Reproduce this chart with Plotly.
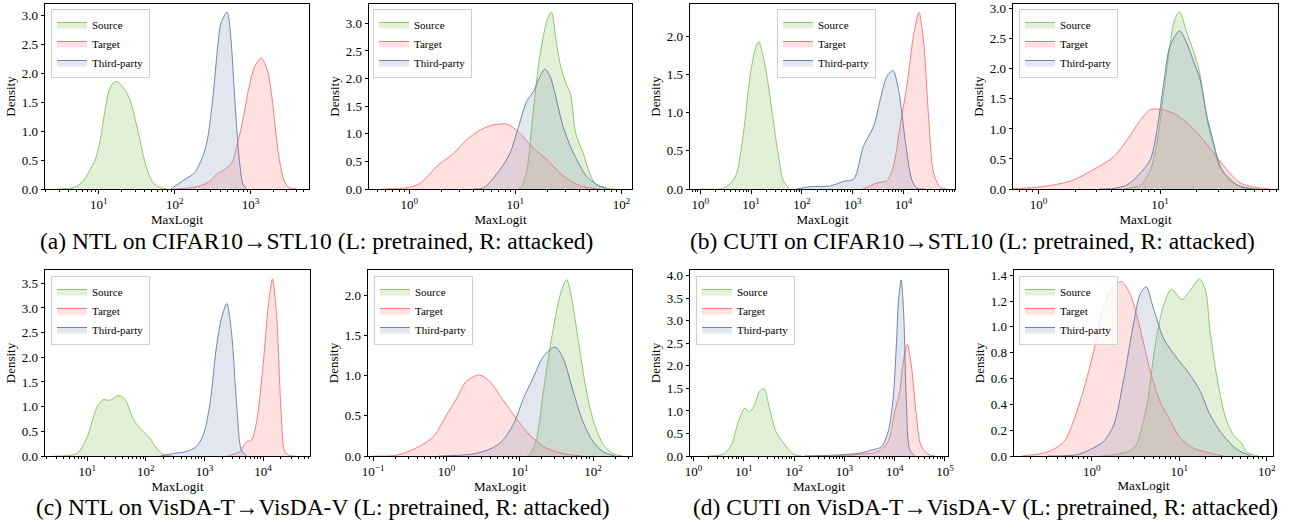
import numpy as np
import plotly.graph_objects as go

# ---------------- data (x stored as log10(MaxLogit)) ----------------
AL_SRC_LX = [0.45, 0.6, 0.7, 0.8, 0.88, 0.95, 1.02, 1.08, 1.14, 1.2, 1.25, 1.3, 1.37, 1.42, 1.48, 1.54, 1.6, 1.66, 1.72, 1.8, 1.9]
AL_SRC_D = [0, 0.01, 0.04, 0.15, 0.32, 0.5, 0.85, 1.35, 1.72, 1.84, 1.85, 1.78, 1.65, 1.5, 1.2, 0.85, 0.5, 0.25, 0.1, 0.03, 0]
AL_TGT_LX = [2.0, 2.2, 2.32, 2.45, 2.55, 2.65, 2.75, 2.83, 2.9, 2.97, 3.05, 3.14, 3.22, 3.28, 3.33, 3.38, 3.44, 3.5, 3.6]
AL_TGT_D = [0, 0.02, 0.05, 0.12, 0.25, 0.33, 0.45, 0.8, 1.2, 1.7, 2.1, 2.26, 2.05, 1.6, 1.0, 0.5, 0.15, 0.03, 0]
AL_TPY_LX = [1.95, 2.06, 2.15, 2.26, 2.37, 2.43, 2.5, 2.57, 2.61, 2.69, 2.74, 2.78, 2.82, 2.86, 2.9, 2.95]
AL_TPY_D = [0, 0.1, 0.18, 0.28, 0.56, 0.85, 1.54, 2.5, 2.86, 3.05, 2.6, 1.8, 1.0, 0.4, 0.08, 0]

AR_SRC_LX = [1.03, 1.06, 1.11, 1.17, 1.23, 1.3, 1.34, 1.39, 1.43, 1.48, 1.52, 1.57, 1.64, 1.7, 1.76, 1.85, 1.93]
AR_SRC_D = [0, 0.05, 0.35, 1.43, 2.4, 3.06, 3.2, 2.6, 2.2, 1.9, 1.73, 1.0, 0.65, 0.29, 0.08, 0.02, 0]
AR_TPY_LX = [0.6, 0.7, 0.855, 0.95, 1.03, 1.11, 1.17, 1.23, 1.28, 1.33, 1.39, 1.45, 1.52, 1.58, 1.67, 1.77, 1.86]
AR_TPY_D = [0, 0.02, 0.35, 0.65, 1.13, 1.6, 1.76, 2.03, 2.17, 2.03, 1.6, 1.13, 0.77, 0.53, 0.23, 0.08, 0.01]
AR_TGT_LX = [-0.25, -0.03, 0.1, 0.26, 0.42, 0.54, 0.67, 0.79, 0.93, 1.04, 1.17, 1.3, 1.42, 1.55, 1.67, 1.8]
AR_TGT_D = [0, 0.02, 0.1, 0.41, 0.65, 0.89, 1.07, 1.16, 1.17, 1.01, 0.74, 0.53, 0.29, 0.11, 0.03, 0]

BL_SRC_LX = [0.0, 0.46, 0.62, 0.72, 0.85, 0.98, 1.08, 1.15, 1.28, 1.41, 1.54, 1.64, 1.77]
BL_SRC_D = [0, 0.01, 0.09, 0.21, 0.73, 1.47, 1.82, 1.93, 1.6, 1.03, 0.43, 0.1, 0]
BL_TPY_LX = [1.9, 2.16, 2.56, 2.82, 3.02, 3.21, 3.41, 3.54, 3.67, 3.79, 3.9, 4.03, 4.16, 4.26, 4.4]
BL_TPY_D = [0, 0.03, 0.04, 0.1, 0.13, 0.56, 0.82, 1.17, 1.47, 1.55, 1.3, 0.64, 0.12, 0.01, 0]
BL_TGT_LX = [3.2, 3.48, 3.67, 3.8, 3.93, 4.07, 4.2, 4.3, 4.39, 4.49, 4.59, 4.72, 4.85]
BL_TGT_D = [0, 0.08, 0.11, 0.3, 0.82, 1.38, 2.03, 2.31, 1.95, 0.95, 0.21, 0.02, 0]

BR_SRC_LX = [0.7, 0.84, 0.92, 0.97, 1.03, 1.08, 1.12, 1.16, 1.22, 1.27, 1.32, 1.36, 1.41, 1.47, 1.52, 1.6, 1.71, 1.82]
BR_SRC_D = [0, 0.07, 0.32, 0.71, 1.6, 2.37, 2.82, 2.95, 2.6, 2.32, 1.99, 1.49, 0.93, 0.54, 0.27, 0.1, 0.02, 0]
BR_TPY_LX = [0.5, 0.62, 0.73, 0.84, 0.92, 0.97, 1.03, 1.08, 1.16, 1.22, 1.27, 1.33, 1.38, 1.44, 1.49, 1.58, 1.66, 1.77]
BR_TPY_D = [0, 0.01, 0.07, 0.27, 0.49, 0.93, 1.76, 2.37, 2.63, 2.43, 2.15, 1.82, 1.26, 0.77, 0.38, 0.16, 0.04, 0]
BR_TGT_LX = [-0.3, -0.01, 0.26, 0.45, 0.62, 0.73, 0.84, 0.92, 0.99, 1.11, 1.22, 1.33, 1.44, 1.55, 1.66, 1.77, 1.9]
BR_TGT_D = [0, 0.03, 0.13, 0.32, 0.54, 0.82, 1.15, 1.32, 1.33, 1.26, 1.1, 0.88, 0.6, 0.32, 0.1, 0.03, 0]

CL_SRC_LX = [0.45, 0.82, 0.99, 1.16, 1.27, 1.39, 1.52, 1.6, 1.67, 1.78, 1.9, 2.07, 2.18, 2.3, 2.45]
CL_SRC_D = [0, 0.05, 0.36, 0.97, 1.14, 1.13, 1.22, 1.2, 1.1, 0.76, 0.56, 0.36, 0.16, 0.03, 0]
CL_TPY_LX = [2.25, 2.47, 2.69, 2.86, 2.98, 3.09, 3.2, 3.29, 3.38, 3.46, 3.55, 3.63, 3.72]
CL_TPY_D = [0, 0.05, 0.09, 0.19, 0.43, 1.03, 2.18, 2.79, 3.09, 2.52, 1.03, 0.12, 0]
CL_TGT_LX = [3.4, 3.6, 3.72, 3.8, 3.89, 4.0, 4.09, 4.16, 4.23, 4.31, 4.37, 4.45, 4.55]
CL_TGT_D = [0, 0.09, 0.29, 0.32, 0.7, 1.84, 3.06, 3.59, 2.86, 0.83, 0.09, 0.01, 0]

CR_SRC_LX = [1.1, 1.14, 1.23, 1.32, 1.41, 1.5, 1.57, 1.64, 1.7, 1.8, 1.91, 2.02, 2.14, 2.27, 2.4]
CR_SRC_D = [0, 0.02, 0.22, 0.8, 1.34, 1.8, 2.07, 2.2, 2.0, 1.43, 0.8, 0.39, 0.14, 0.03, 0]
CR_TPY_LX = [-0.1, 0.32, 0.55, 0.73, 0.91, 1.05, 1.18, 1.32, 1.48, 1.59, 1.73, 1.86, 2.0, 2.14, 2.3]
CR_TPY_D = [0, 0.02, 0.07, 0.16, 0.39, 0.72, 0.97, 1.24, 1.36, 1.22, 0.8, 0.43, 0.18, 0.05, 0]
CR_TGT_LX = [-1.0, -0.68, -0.41, -0.18, 0.0, 0.14, 0.27, 0.45, 0.59, 0.77, 0.95, 1.14, 1.36, 1.59, 1.85]
CR_TGT_D = [0, 0.01, 0.1, 0.24, 0.51, 0.72, 0.93, 1.01, 0.93, 0.7, 0.47, 0.26, 0.1, 0.03, 0]

DL_SRC_LX = [0.3, 0.59, 0.75, 0.89, 1.02, 1.11, 1.21, 1.31, 1.4, 1.51, 1.64, 1.77, 1.9, 2.03, 2.15]
DL_SRC_D = [0, 0.04, 0.24, 0.76, 1.06, 0.98, 1.13, 1.43, 1.5, 1.06, 0.54, 0.32, 0.13, 0.02, 0]
DL_TPY_LX = [2.2, 2.82, 3.28, 3.54, 3.74, 3.87, 3.97, 4.03, 4.08, 4.13, 4.18, 4.23, 4.3, 4.4]
DL_TPY_D = [0, 0.02, 0.06, 0.13, 0.21, 0.54, 1.28, 2.39, 3.5, 3.91, 3.13, 1.28, 0.13, 0]
DL_TGT_LX = [2.8, 3.34, 3.67, 3.87, 4.0, 4.1, 4.16, 4.25, 4.33, 4.43, 4.52, 4.66, 4.8]
DL_TGT_D = [0, 0.04, 0.1, 0.32, 0.98, 1.43, 2.02, 2.48, 2.02, 0.91, 0.24, 0.04, 0]

DR_SRC_LX = [0.1, 0.25, 0.44, 0.51, 0.63, 0.72, 0.82, 0.91, 1.03, 1.12, 1.23, 1.3, 1.35, 1.45, 1.54, 1.62, 1.71, 1.77, 1.9]
DR_SRC_D = [0, 0.01, 0.04, 0.09, 0.4, 0.84, 1.17, 1.29, 1.21, 1.28, 1.37, 1.28, 0.97, 0.53, 0.27, 0.16, 0.1, 0.03, 0]
DR_TPY_LX = [-0.5, -0.17, -0.02, 0.13, 0.25, 0.36, 0.48, 0.55, 0.62, 0.7, 0.82, 0.97, 1.12, 1.24, 1.35, 1.5, 1.66, 1.82]
DR_TPY_D = [0, 0.01, 0.05, 0.11, 0.24, 0.58, 1.04, 1.25, 1.31, 1.15, 0.91, 0.76, 0.63, 0.5, 0.32, 0.16, 0.05, 0]
DR_TGT_LX = [-0.8, -0.51, -0.32, -0.21, -0.1, 0.02, 0.13, 0.25, 0.34, 0.44, 0.55, 0.67, 0.78, 0.9, 1.01, 1.16, 1.31, 1.5]
DR_TGT_D = [0, 0.03, 0.11, 0.27, 0.5, 0.81, 1.15, 1.31, 1.35, 1.25, 0.99, 0.65, 0.42, 0.27, 0.14, 0.06, 0.03, 0]

SERIES = ["Source", "Target", "Third-party"]
CAPTIONS = [
    "(a) NTL on CIFAR10\u2192STL10 (L: pretrained, R: attacked)",
    "(b) CUTI on CIFAR10\u2192STL10 (L: pretrained, R: attacked)",
    "(c) NTL on VisDA-T\u2192VisDA-V (L: pretrained, R: attacked)",
    "(d) CUTI on VisDA-T\u2192VisDA-V (L: pretrained, R: attacked)",
]
X_TITLE = "MaxLogit"
Y_TITLE = "Density"

# ---------------- styling / layout ----------------
W, H = 1300, 529
FONT = "Liberation Serif"
LINE = {"Source": "rgba(125,190,85,0.85)", "Target": "rgba(255,110,110,0.9)", "Third-party": "rgba(100,122,165,0.9)"}
FILL = {"Source": "rgba(135,195,95,0.25)", "Target": "rgba(255,135,135,0.25)", "Third-party": "rgba(139,155,187,0.25)"}

PANELS = [
    dict(box=(45, 309, 4, 189), xr=(0.29, 3.77), yr=3.19, dt=0.5, dec=(1, 3), leg=(51, 9),
         data=[(AL_SRC_LX, AL_SRC_D), (AL_TGT_LX, AL_TGT_D), (AL_TPY_LX, AL_TPY_D)]),
    dict(box=(369, 632, 4, 189), xr=(-0.38, 2.1), yr=3.35, dt=0.5, dec=(0, 2), leg=(373, 9),
         data=[(AR_SRC_LX, AR_SRC_D), (AR_TGT_LX, AR_TGT_D), (AR_TPY_LX, AR_TPY_D)]),
    dict(box=(690, 955, 4, 189), xr=(-0.2, 5.01), yr=2.42, dt=0.5, dec=(0, 4), leg=(777, 9),
         data=[(BL_SRC_LX, BL_SRC_D), (BL_TGT_LX, BL_TGT_D), (BL_TPY_LX, BL_TPY_D)]),
    dict(box=(1013, 1278, 4, 189), xr=(-0.21, 1.97), yr=3.08, dt=0.5, dec=(0, 1), leg=(1019, 9),
         data=[(BR_SRC_LX, BR_SRC_D), (BR_TGT_LX, BR_TGT_D), (BR_TPY_LX, BR_TPY_D)]),
    dict(box=(45, 310, 270, 456), xr=(0.28, 4.8), yr=3.77, dt=0.5, dec=(1, 4), leg=(51, 276),
         data=[(CL_SRC_LX, CL_SRC_D), (CL_TGT_LX, CL_TGT_D), (CL_TPY_LX, CL_TPY_D)]),
    dict(box=(368, 632, 270, 456), xr=(-1.07, 2.53), yr=2.32, dt=0.5, dec=(-1, 2), leg=(374, 276),
         data=[(CR_SRC_LX, CR_SRC_D), (CR_TGT_LX, CR_TGT_D), (CR_TPY_LX, CR_TPY_D)]),
    dict(box=(690, 948, 270, 456), xr=(-0.07, 5.06), yr=4.13, dt=0.5, dec=(0, 5), leg=(696, 276),
         data=[(DL_SRC_LX, DL_SRC_D), (DL_TGT_LX, DL_TGT_D), (DL_TPY_LX, DL_TPY_D)]),
    dict(box=(1014, 1273, 270, 456), xr=(-0.89, 2.07), yr=1.44, dt=0.2, dec=(0, 2), leg=(1019, 276),
         data=[(DR_SRC_LX, DR_SRC_D), (DR_TGT_LX, DR_TGT_D), (DR_TPY_LX, DR_TPY_D)]),
]
CAPTION_POS = [(316, 241), (972, 241), (323, 507), (985, 507)]

fig = go.Figure()
layout = dict(width=W, height=H, margin=dict(l=0, r=0, t=0, b=0, pad=0),
              paper_bgcolor="white", plot_bgcolor="white",
              font=dict(family=FONT, size=13, color="black"), showlegend=True)

def exp_text(k):
    return "10<sup>" + (("\u2212" + str(-k)) if k < 0 else str(k)) + "</sup>"

for i, p in enumerate(PANELS):
    n = "" if i == 0 else str(i + 1)
    legname = "legend" + n
    l, r, t, b = p["box"]
    for name, (lx, d) in zip(SERIES, p["data"]):
        fig.add_trace(go.Scatter(
            x=np.power(10.0, np.array(lx)), y=d, name=name, mode="lines",
            line=dict(color=LINE[name], width=1, shape="spline", smoothing=0.8),
            fill="tozeroy", fillcolor=FILL[name],
            xaxis="x" + n, yaxis="y" + n, legend=legname, hoverinfo="skip"))
    ks = list(range(p["dec"][0], p["dec"][1] + 1))
    layout["xaxis" + n] = dict(
        type="log", range=list(p["xr"]), domain=[l / W, r / W], anchor="y" + n,
        showline=True, linecolor="black", linewidth=1, mirror=True, showgrid=False, zeroline=False,
        ticks="outside", ticklen=3.5, tickwidth=0.8, tickcolor="black",
        tickmode="array", tickvals=[10.0 ** k for k in ks], ticktext=[exp_text(k) for k in ks],
        tickfont=dict(family=FONT, size=13),
        minor=dict(ticks="outside", ticklen=2, tickwidth=0.6, tickcolor="black", dtick="D1", showgrid=False),
        title=dict(text=X_TITLE, font=dict(family=FONT, size=13), standoff=2), automargin=False)
    layout["yaxis" + n] = dict(
        range=[0, p["yr"]], domain=[1 - b / H, 1 - t / H], anchor="x" + n,
        showline=True, linecolor="black", linewidth=1, mirror=True, showgrid=False, zeroline=False,
        ticks="outside", ticklen=3.5, tickwidth=0.8, tickcolor="black", dtick=p["dt"], tick0=0,
        tickformat=".1f", tickfont=dict(family=FONT, size=13),
        title=dict(text=Y_TITLE, font=dict(family=FONT, size=13), standoff=3), automargin=False)
    lx0, ly0 = p["leg"]
    layout[legname] = dict(x=lx0 / W, y=1 - ly0 / H, xanchor="left", yanchor="top",
                           xref="paper", yref="paper",
                           bgcolor="rgba(255,255,255,0.8)", bordercolor="#d0d0d0", borderwidth=1,
                           font=dict(family=FONT, size=11, color="black"), itemwidth=30, tracegroupgap=0)

annotations = []
for text, (cx, cy) in zip(CAPTIONS, CAPTION_POS):
    annotations.append(dict(text=text, x=cx / W, y=1 - cy / H, xref="paper", yref="paper",
                            xanchor="center", yanchor="middle", showarrow=False,
                            font=dict(family=FONT, size=23.5, color="black")))
layout["annotations"] = annotations
fig.update_layout(**layout)
fig.write_html("out.html")
